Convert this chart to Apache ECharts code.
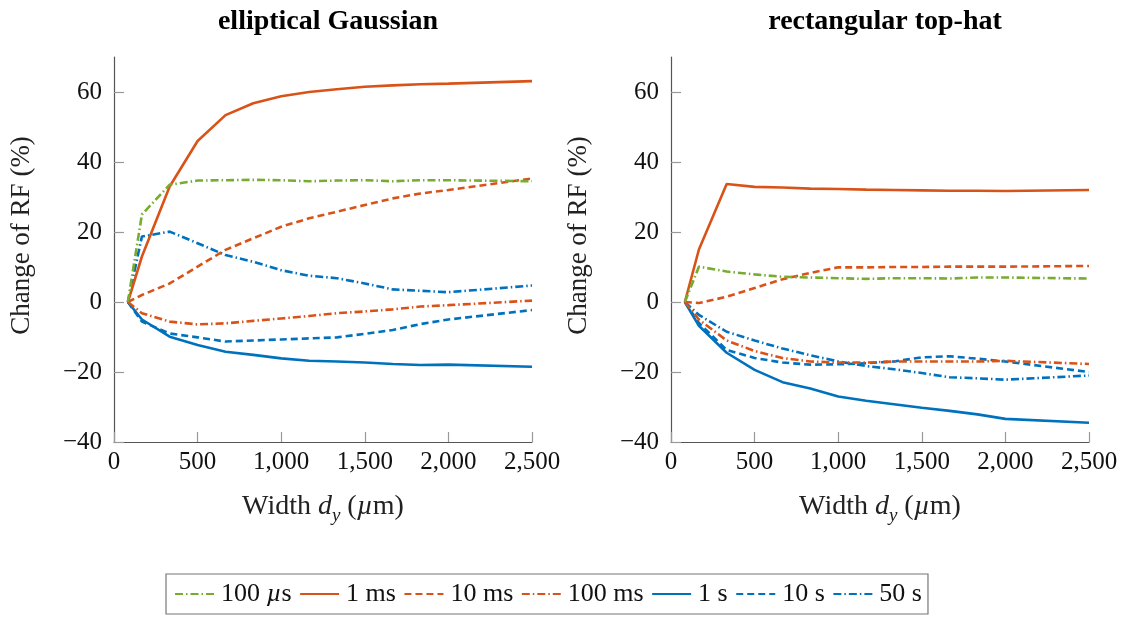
<!DOCTYPE html>
<html>
<head>
<meta charset="utf-8">
<script src="https://cdn.jsdelivr.net/npm/echarts@6/dist/echarts.min.js"></script>
<style>
  html, body { margin: 0; padding: 0; background: #fff; }
  #chart { width: 1131px; height: 619px; }
</style>
</head>
<body>
<div id="chart"></div>
<script>
// Widths d_y (µm) at which RF change was evaluated
const widths = [83, 167, 333, 500, 667, 833, 1000, 1167, 1333, 1500, 1667, 1833, 2000, 2500];

// Elliptical Gaussian beam profile: change of RF (%)
const gauss100us = [0, 25, 33.5, 34.7, 34.8, 34.9, 34.8, 34.5, 34.7, 34.8, 34.5, 34.8, 34.8, 34.5];
const gauss1ms   = [0, 13, 33, 46, 53.4, 56.8, 58.8, 60, 60.8, 61.5, 61.9, 62.2, 62.4, 63.1];
const gauss10ms  = [0, 2, 5.3, 10.1, 14.9, 18.2, 21.5, 23.9, 25.8, 27.7, 29.6, 31, 32, 35.3];
const gauss100ms = [0, -3.2, -5.6, -6.4, -6.1, -5.4, -4.7, -4.0, -3.2, -2.7, -2.1, -1.3, -0.9, 0.4];
const gauss1s    = [0, -5, -9.9, -12.3, -14.2, -15.1, -16.1, -16.8, -17, -17.3, -17.7, -18, -17.9, -18.5];
const gauss10s   = [0, -5.6, -9, -10.1, -11.3, -11, -10.7, -10.4, -10.1, -9.1, -8, -6.3, -5, -2.3];
const gauss50s   = [0, 18.7, 20.1, 16.8, 13.4, 11.5, 9.1, 7.5, 6.8, 5.3, 3.6, 3.2, 2.8, 4.7];

// Rectangular top-hat beam profile: change of RF (%)
const hat100us = [0, 10.1, 8.7, 7.9, 7.2, 7.0, 6.8, 6.6, 6.8, 6.8, 6.7, 7, 7, 6.7];
const hat1ms   = [0, 15, 33.7, 32.9, 32.7, 32.4, 32.3, 32.1, 32, 31.9, 31.8, 31.8, 31.7, 32];
const hat10ms  = [0, -0.3, 1.5, 4.0, 6.5, 8.3, 9.9, 9.9, 10, 10, 10.1, 10.1, 10.1, 10.3];
const hat100ms = [0, -5, -11, -14, -16, -17, -17.3, -17.3, -17, -17, -17, -17, -16.8, -17.7];
const hat1s    = [0, -6.8, -14.5, -19.4, -22.9, -24.7, -27, -28.2, -29.2, -30.2, -31.1, -32.1, -33.4, -34.5];
const hat10s   = [0, -6, -13.7, -16, -17.3, -17.9, -17.8, -17.5, -17, -15.8, -15.5, -16.2, -17, -20];
const hat50s   = [0, -3.7, -8.5, -11, -13.3, -15.2, -17, -18.3, -19.2, -20.3, -21.5, -21.8, -22.2, -21];

// Tick values
const yTicks = [-40, -20, 0, 20, 40, 60];
const xTicks = [0, 500, 1000, 1500, 2000, 2500];

const panelTitles = ['elliptical Gaussian', 'rectangular top-hat'];
const seriesNames = ['100 µs', '1 ms', '10 ms', '100 ms', '1 s', '10 s', '50 s'];

const GREEN = '#77AC30', RED = '#D95319', BLUE = '#0072BD';
const SOLID = 'solid', DASHED = [7, 4], DASHDOT = [8, 3, 1.5, 3];
const styles = [
  { color: GREEN, type: DASHDOT },
  { color: RED, type: SOLID },
  { color: RED, type: DASHED },
  { color: RED, type: DASHDOT },
  { color: BLUE, type: SOLID },
  { color: BLUE, type: DASHED },
  { color: BLUE, type: DASHDOT }
];
const panels = [
  [gauss100us, gauss1ms, gauss10ms, gauss100ms, gauss1s, gauss10s, gauss50s],
  [hat100us, hat1ms, hat10ms, hat100ms, hat1s, hat10s, hat50s]
];

const FONT = '"Liberation Serif", "Times New Roman", serif';
const fmtNum = v => {
  const s = Math.abs(v).toString().replace(/\B(?=(\d{3})+(?!\d))/g, ',');
  return v < 0 ? '\u2212' + s : s;
};

const gridLefts = [114, 671];
const plotWidth = 418;

const grids = gridLefts.map(l => ({ left: l, top: 57, width: plotWidth, height: 385 }));

const xAxes = gridLefts.map((_, i) => ({
  type: 'value', gridIndex: i, min: 0, max: 2500, interval: 500,
  name: 'Width {i|d}{s|y} ({i|µ}m)',
  nameLocation: 'middle', nameGap: 47,
  nameTextStyle: {
    fontFamily: FONT, fontSize: 28, color: '#222',
    rich: {
      i: { fontFamily: FONT, fontSize: 28, fontStyle: 'italic', color: '#222' },
      s: { fontFamily: FONT, fontSize: 19, fontStyle: 'italic', color: '#222', verticalAlign: 'bottom', lineHeight: 36 }
    }
  },
  axisLine: { show: true, onZero: false, lineStyle: { color: '#555', width: 1.2 } },
  axisTick: { show: true, inside: true, length: 10, customValues: xTicks, lineStyle: { color: '#999', width: 1.2 } },
  axisLabel: { customValues: xTicks, formatter: fmtNum, fontFamily: FONT, fontSize: 25, color: '#111', margin: 8 },
  splitLine: { show: false }
}));

const yAxes = gridLefts.map((_, i) => ({
  type: 'value', gridIndex: i, min: -40, max: 70, interval: 20,
  name: 'Change of RF (%)',
  nameLocation: 'middle', nameGap: 79,
  nameTextStyle: { fontFamily: FONT, fontSize: 27, color: '#222', padding: [0, 0, 0, 28] },
  axisLine: { show: true, onZero: false, lineStyle: { color: '#555', width: 1.2 } },
  axisTick: { show: true, inside: true, length: 10, customValues: yTicks, lineStyle: { color: '#999', width: 1.2 } },
  axisLabel: { customValues: yTicks, formatter: fmtNum, fontFamily: FONT, fontSize: 25, color: '#111', margin: 12 },
  splitLine: { show: false }
}));

const series = [];
panels.forEach((sets, p) => {
  sets.forEach((vals, k) => {
    series.push({
      name: seriesNames[k], type: 'line',
      xAxisIndex: p, yAxisIndex: p,
      data: widths.map((w, j) => [w, vals[j]]),
      symbol: 'none', smooth: false,
      lineStyle: { color: styles[k].color, type: styles[k].type, width: 2.6 },
      itemStyle: { color: styles[k].color },
      z: 10 - k
    });
  });
});

const chart = echarts.init(document.getElementById('chart'), null, { renderer: 'canvas' });
chart.setOption({
  animation: false,
  backgroundColor: '#fff',
  title: panelTitles.map((t, i) => ({
    text: t, left: gridLefts[i] + plotWidth / 2, top: 3, textAlign: 'center',
    textStyle: { fontFamily: FONT, fontSize: 28, fontWeight: 'bold', color: '#000' }
  })),
  grid: grids,
  xAxis: xAxes,
  yAxis: yAxes,
  legend: {
    data: seriesNames, left: 166, top: 574,
    orient: 'horizontal',
    itemWidth: 39, itemHeight: 14, itemGap: 7.5,
    borderColor: '#777', borderWidth: 1.2, padding: [7, 6, 7, 8],
    itemStyle: { opacity: 0, borderWidth: 0 },
    formatter: n => n.replace('µ', '{i|µ}'),
    textStyle: {
      fontFamily: FONT, fontSize: 26, color: '#111', padding: [0, 0, 0, 2],
      rich: { i: { fontFamily: FONT, fontSize: 26, fontStyle: 'italic', color: '#111' } }
    }
  },
  series: series
});
</script>
</body>
</html>
